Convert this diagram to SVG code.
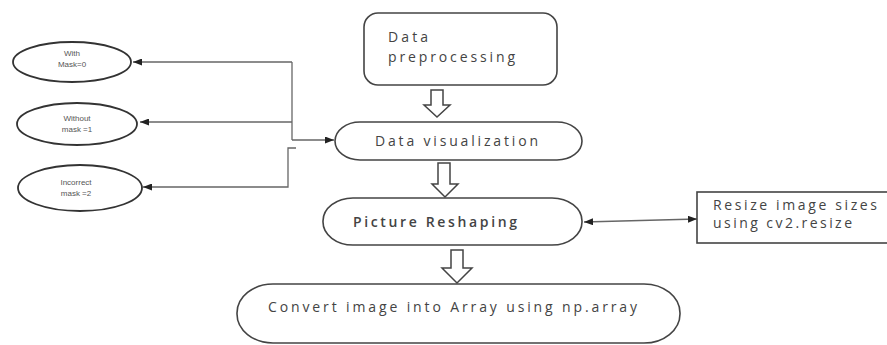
<svg xmlns="http://www.w3.org/2000/svg" width="887" height="345" viewBox="0 0 887 345">
<defs>
<marker id="ah" markerWidth="9" markerHeight="7" refX="9" refY="3.5" orient="auto" markerUnits="userSpaceOnUse">
<path d="M0,0 L9,3.5 L0,7 Z" fill="#222"/>
</marker>
<marker id="ahs" markerWidth="9" markerHeight="7" refX="0" refY="3.5" orient="auto" markerUnits="userSpaceOnUse">
<path d="M9,0 L0,3.5 L9,7 Z" fill="#222"/>
</marker>
</defs>
<style>
.shape{fill:#fff;stroke:#444;stroke-width:1.6}
.ell{fill:#fff;stroke:#333;stroke-width:1.8}
.t{font-family:"Open Sans","Liberation Sans",sans-serif;fill:#444;font-size:14px}
.s{font-family:"Liberation Sans",sans-serif;fill:#555;font-size:8px;text-anchor:middle}
.c{fill:none;stroke:#666;stroke-width:1.3}
.blk{fill:#fff;stroke:#444;stroke-width:1.5}
</style>
<rect width="887" height="345" fill="#fff"/>

<g id="connectors">
<line class="c" x1="292" y1="62" x2="133" y2="62" marker-end="url(#ah)"/>
<line class="c" x1="292" y1="62" x2="292" y2="140"/>
<line class="c" x1="292" y1="122" x2="140" y2="122" marker-end="url(#ah)"/>
<line class="c" x1="292" y1="140" x2="334" y2="140" marker-end="url(#ah)"/>
<polyline class="c" points="296,148 288,148 288,187 143,187" marker-end="url(#ah)"/>
<line class="c" x1="584" y1="222" x2="697" y2="219" marker-start="url(#ahs)" marker-end="url(#ah)"/>
<path class="blk" d="M431,90 H443 V105 H450 L437,117 L424,105 H431 Z"/>
<path class="blk" d="M438,163 H450 V184 H458 L445,197 L432,184 H438 Z"/>
<path class="blk" d="M451,250 H463 V268 H472 L457,283 L442,268 H451 Z"/>
</g>

<g id="data-preprocessing">
<rect class="shape" x="364" y="13" width="193" height="72" rx="14"/>
<text class="t" x="388" y="42" textLength="40" lengthAdjust="spacing">Data</text>
<text class="t" x="388" y="62" textLength="127" lengthAdjust="spacing">preprocessing</text>
</g>

<g id="data-visualization">
<rect class="shape" x="335" y="122" width="247" height="38" rx="25" ry="19"/>
<text class="t" x="375" y="146" textLength="163" lengthAdjust="spacing">Data  visualization</text>
</g>

<g id="picture-reshaping">
<rect class="shape" x="323" y="198" width="259" height="47" rx="30" ry="23"/>
<text class="t" x="353" y="227" font-weight="600" textLength="164" lengthAdjust="spacing">Picture Reshaping</text>
</g>

<g id="resize-box">
<rect class="shape" x="697" y="192" width="192" height="51"/>
<text class="t" x="713" y="210" textLength="164" lengthAdjust="spacing">Resize image sizes</text>
<text class="t" x="713" y="228" textLength="139" lengthAdjust="spacing">using cv2.resize</text>
</g>

<g id="convert-array">
<rect class="shape" x="237" y="284" width="443" height="59" rx="36" ry="29"/>
<text class="t" x="268" y="312" font-size="15" textLength="369" lengthAdjust="spacing">Convert image into Array using np.array</text>
</g>

<g id="with-mask">
<ellipse class="ell" cx="72" cy="62" rx="59" ry="20"/>
<text class="s" x="72" y="56">With</text>
<text class="s" x="72" y="67">Mask=0</text>
</g>

<g id="without-mask">
<ellipse class="ell" cx="77" cy="124" rx="60" ry="21"/>
<text class="s" x="77" y="121">Without</text>
<text class="s" x="77" y="132">mask =1</text>
</g>

<g id="incorrect-mask">
<ellipse class="ell" cx="80" cy="188" rx="62" ry="23"/>
<text class="s" x="76" y="185">Incorrect</text>
<text class="s" x="76" y="196">mask =2</text>
</g>
</svg>
